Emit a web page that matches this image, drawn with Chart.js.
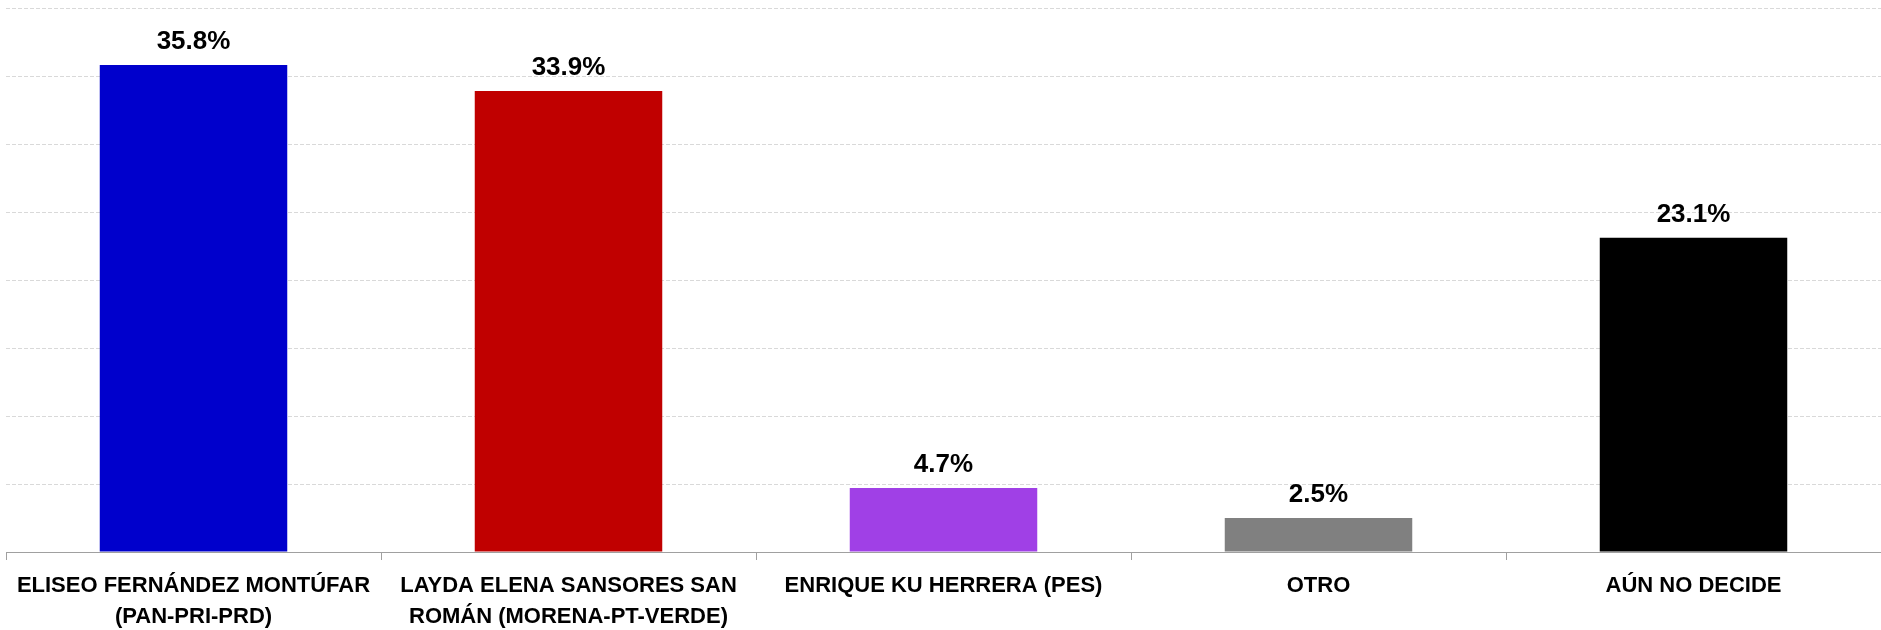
<!DOCTYPE html>
<html>
<head>
<meta charset="utf-8">
<script src="https://cdn.jsdelivr.net/npm/chart.js@4"></script>
<style>
  html, body { margin: 0; padding: 0; background: #fff; }
  #wrap { width: 1881px; height: 630px; }
</style>
</head>
<body>
<div id="wrap"><canvas id="votoChart"></canvas></div>
<script>
// candidates and their share of the vote
var candidatos = [
    ['ELISEO FERNÁNDEZ MONTÚFAR', '(PAN-PRI-PRD)'],
    ['LAYDA ELENA SANSORES SAN', 'ROMÁN (MORENA-PT-VERDE)'],
    'ENRIQUE KU HERRERA (PES)',
    'OTRO',
    'AÚN NO DECIDE'
];
var porcentajes = [35.8, 33.9, 4.7, 2.5, 23.1];
var colores = ['#0000CC', '#C00000', '#A040E6', '#808080', '#000000'];

var fuente = '"Liberation Sans", Arial, sans-serif';

// value labels above each bar (no datalabels plugin offline)
var etiquetasPlugin = {
    id: 'etiquetas',
    afterDatasetsDraw(chart) {
        var ctx = chart.ctx;
        var meta = chart.getDatasetMeta(0);
        ctx.save();
        ctx.font = 'bold 26px ' + fuente;
        ctx.fillStyle = '#000';
        ctx.textAlign = 'center';
        ctx.textBaseline = 'alphabetic';
        meta.data.forEach(function (bar, i) {
            ctx.fillText(porcentajes[i].toFixed(1) + '%', bar.x, bar.y - 16);
        });
        ctx.restore();
    }
};

var ctx = document.getElementById('votoChart').getContext('2d');
var myChart = new Chart(ctx, {
    type: 'bar',
    data: {
        labels: candidatos,
        datasets: [{
            data: porcentajes,
            backgroundColor: colores,
            borderWidth: 0,
            categoryPercentage: 1,
            barPercentage: 0.5
        }]
    },
    options: {
        responsive: true,
        maintainAspectRatio: false,
        animation: false,
        layout: { padding: { left: 6, right: 0, top: 8, bottom: 0 } },
        plugins: {
            legend: { display: false },
            tooltip: { enabled: false }
        },
        scales: {
            x: {
                afterFit: function (scale) { scale.height = 78; },
                grid: {
                    offset: true,
                    drawOnChartArea: false,
                    drawTicks: true,
                    tickLength: 8,
                    color: '#A0A0A0'
                },
                border: { display: true, color: '#A0A0A0', width: 1 },
                ticks: {
                    autoSkip: false,
                    maxRotation: 0,
                    padding: 10,
                    color: '#000',
                    font: { family: fuente, size: 22, weight: 'bold', lineHeight: '31px' }
                }
            },
            y: {
                min: 0,
                max: 40,
                ticks: { display: false, stepSize: 5 },
                grid: {
                    drawTicks: false,
                    color: '#D9D9D9',
                    lineWidth: 1
                },
                border: { display: false, dash: [4, 2] }
            }
        }
    },
    plugins: [etiquetasPlugin]
});
</script>
</body>
</html>
